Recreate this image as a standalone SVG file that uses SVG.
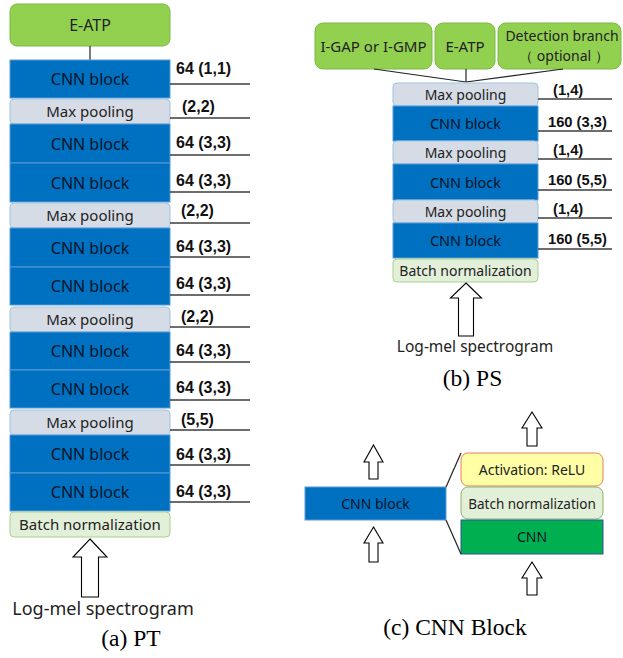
<svg xmlns="http://www.w3.org/2000/svg" width="623" height="658" viewBox="0 0 623 658">
  <style>
    .cnn { fill: #0070C0; stroke: #5B9BD5; stroke-width: 1; }
    .mp { fill: #D6DCE5; stroke: #9DC3E6; stroke-width: 1; }
    .bn { fill: #E2F0D9; stroke: #A9D18E; stroke-width: 1; }
    .head { fill: #92D050; stroke: #7DBA45; stroke-width: 1; }
    .act { fill: #FFFFA6; stroke: #ED7D61; stroke-width: 1; }
    .conv { fill: #00B050; stroke: #2F5597; stroke-width: 1; }
    .t { font-family: "Noto Sans", "Open Sans", sans-serif; text-anchor: middle; fill: #222222; }
    .tc { font-family: "Noto Sans", "Open Sans", sans-serif; text-anchor: middle; fill: #051428; }
    .lab { font-family: "Liberation Sans", Arial, sans-serif; font-weight: bold; fill: #111; }
    .cap { font-family: "Liberation Serif", "Times New Roman", serif; font-size: 23.5px; text-anchor: middle; fill: #000; }
    .rule { stroke: #3C3C3C; stroke-width: 1.4; fill: none; }
    .link { stroke: #222; stroke-width: 1.2; fill: none; }
    .arrow { fill: #FFFFFF; stroke: #000; stroke-width: 1.1; stroke-linejoin: miter; }
  </style>

  <!-- ===== (a) PT ===== -->
  <g id="pt-eatp">
    <rect class="head" x="10" y="4" width="160" height="42" rx="7"/>
    <text class="t" x="90" y="31" font-size="16">E-ATP</text>
  </g>
  <g id="pt-connectors">
    <line class="link" x1="90" y1="46" x2="90" y2="60"/>
  </g>
  <g id="pt-stack">
    <g id="pt-cnn1"><rect class="cnn" x="10" y="60" width="160" height="38"/><text class="tc" x="90" y="85" font-size="16">CNN block</text></g>
    <g id="pt-mp1"><rect class="mp" x="10" y="99" width="160" height="25" rx="4"/><text class="t" x="90" y="117" font-size="15">Max pooling</text></g>
    <g id="pt-cnn2"><rect class="cnn" x="10" y="124" width="160" height="39"/><text class="tc" x="90" y="149.5" font-size="16">CNN block</text></g>
    <g id="pt-cnn3"><rect class="cnn" x="10" y="163" width="160" height="39"/><text class="tc" x="90" y="188.5" font-size="16">CNN block</text></g>
    <g id="pt-mp2"><rect class="mp" x="10" y="203" width="160" height="25" rx="4"/><text class="t" x="90" y="221" font-size="15">Max pooling</text></g>
    <g id="pt-cnn4"><rect class="cnn" x="10" y="228" width="160" height="39"/><text class="tc" x="90" y="253.5" font-size="16">CNN block</text></g>
    <g id="pt-cnn5"><rect class="cnn" x="10" y="267" width="160" height="38"/><text class="tc" x="90" y="292" font-size="16">CNN block</text></g>
    <g id="pt-mp3"><rect class="mp" x="10" y="307" width="160" height="25" rx="4"/><text class="t" x="90" y="325" font-size="15">Max pooling</text></g>
    <g id="pt-cnn6"><rect class="cnn" x="10" y="332" width="160" height="38"/><text class="tc" x="90" y="357" font-size="16">CNN block</text></g>
    <g id="pt-cnn7"><rect class="cnn" x="10" y="370" width="160" height="38"/><text class="tc" x="90" y="395" font-size="16">CNN block</text></g>
    <g id="pt-mp4"><rect class="mp" x="10" y="410" width="160" height="25" rx="4"/><text class="t" x="90" y="428" font-size="15">Max pooling</text></g>
    <g id="pt-cnn8"><rect class="cnn" x="10" y="435" width="160" height="38"/><text class="tc" x="90" y="460" font-size="16">CNN block</text></g>
    <g id="pt-cnn9"><rect class="cnn" x="10" y="473" width="160" height="38"/><text class="tc" x="90" y="498" font-size="16">CNN block</text></g>
    <g id="pt-bn"><rect class="bn" x="10" y="512" width="160" height="25" rx="4"/><text class="t" x="90" y="530" font-size="15">Batch normalization</text></g>
  </g>
  <g id="pt-labels" font-size="16">
    <text class="lab" x="176" y="74">64 (1,1)</text><line class="rule" x1="170" y1="84" x2="250" y2="84"/>
    <text class="lab" x="182" y="112">(2,2)</text><line class="rule" x1="170" y1="118" x2="250" y2="118"/>
    <text class="lab" x="176" y="148">64 (3,3)</text><line class="rule" x1="170" y1="155" x2="250" y2="155"/>
    <text class="lab" x="176" y="186">64 (3,3)</text><line class="rule" x1="170" y1="192" x2="250" y2="192"/>
    <text class="lab" x="181" y="216">(2,2)</text><line class="rule" x1="170" y1="223" x2="250" y2="223"/>
    <text class="lab" x="176" y="252">64 (3,3)</text><line class="rule" x1="170" y1="257" x2="250" y2="257"/>
    <text class="lab" x="176" y="289">64 (3,3)</text><line class="rule" x1="170" y1="295" x2="250" y2="295"/>
    <text class="lab" x="181" y="322">(2,2)</text><line class="rule" x1="170" y1="327" x2="250" y2="327"/>
    <text class="lab" x="176" y="356">64 (3,3)</text><line class="rule" x1="170" y1="362" x2="250" y2="362"/>
    <text class="lab" x="176" y="393">64 (3,3)</text><line class="rule" x1="170" y1="400" x2="250" y2="400"/>
    <text class="lab" x="181" y="425">(5,5)</text><line class="rule" x1="170" y1="430" x2="250" y2="430"/>
    <text class="lab" x="176" y="460">64 (3,3)</text><line class="rule" x1="170" y1="465" x2="250" y2="465"/>
    <text class="lab" x="176" y="497">64 (3,3)</text><line class="rule" x1="170" y1="502" x2="250" y2="502"/>
  </g>
  <g id="pt-input">
    <path class="arrow" d="M90,539 L107,557 L98.5,557 L98.5,597 L81.5,597 L81.5,557 L73,557 Z"/>
    <text class="t" x="103" y="615" font-size="18">Log-mel spectrogram</text>
  </g>
  <text class="cap" x="131" y="646">(a) PT</text>

  <!-- ===== (b) PS ===== -->
  <g id="ps-gap">
    <rect class="head" x="315" y="23" width="117" height="46" rx="8"/>
    <text class="t" x="373.5" y="52" font-size="15">I-GAP or I-GMP</text>
  </g>
  <g id="ps-eatp">
    <rect class="head" x="435" y="23" width="60" height="46" rx="8"/>
    <text class="t" x="465" y="52" font-size="15">E-ATP</text>
  </g>
  <g id="ps-detect">
    <rect class="head" x="498" y="23" width="123" height="46" rx="8"/>
    <text class="t" x="562" y="41" font-size="14">Detection branch</text>
    <text class="t" x="564" y="61" font-size="14" font-family="'Noto Sans', 'Noto Sans CJK SC', sans-serif">（ optional ）</text>
  </g>
  <g id="ps-connectors">
    <line class="link" x1="374" y1="69" x2="466" y2="82"/>
    <line class="link" x1="466" y1="69" x2="466" y2="82"/>
    <line class="link" x1="563" y1="69" x2="466" y2="82"/>
  </g>
  <g id="ps-stack">
    <g id="ps-mp1"><rect class="mp" x="393" y="83" width="145" height="23" rx="4"/><text class="t" x="465.5" y="99.5" font-size="14">Max pooling</text></g>
    <g id="ps-cnn1"><rect class="cnn" x="393" y="106" width="145" height="35"/><text class="tc" x="465.5" y="129" font-size="14.5">CNN block</text></g>
    <g id="ps-mp2"><rect class="mp" x="393" y="141" width="145" height="23" rx="4"/><text class="t" x="465.5" y="157.5" font-size="14">Max pooling</text></g>
    <g id="ps-cnn2"><rect class="cnn" x="393" y="164" width="145" height="36"/><text class="tc" x="465.5" y="187.5" font-size="14.5">CNN block</text></g>
    <g id="ps-mp3"><rect class="mp" x="393" y="200" width="145" height="23" rx="4"/><text class="t" x="465.5" y="216.5" font-size="14">Max pooling</text></g>
    <g id="ps-cnn3"><rect class="cnn" x="393" y="223" width="145" height="35"/><text class="tc" x="465.5" y="246" font-size="14.5">CNN block</text></g>
    <g id="ps-bn"><rect class="bn" x="393" y="259" width="145" height="23" rx="4"/><text class="t" x="465.5" y="275.5" font-size="14">Batch normalization</text></g>
  </g>
  <g id="ps-labels" font-size="14.7">
    <text class="lab" x="553" y="95">(1,4)</text><line class="rule" x1="538" y1="99" x2="612" y2="99"/>
    <text class="lab" x="548" y="127">160 (3,3)</text><line class="rule" x1="538" y1="131" x2="612" y2="131"/>
    <text class="lab" x="553" y="155">(1,4)</text><line class="rule" x1="538" y1="159" x2="612" y2="159"/>
    <text class="lab" x="548" y="185">160 (5,5)</text><line class="rule" x1="538" y1="190" x2="612" y2="190"/>
    <text class="lab" x="553" y="214">(1,4)</text><line class="rule" x1="538" y1="218" x2="612" y2="218"/>
    <text class="lab" x="548" y="244">160 (5,5)</text><line class="rule" x1="538" y1="249" x2="612" y2="249"/>
  </g>
  <g id="ps-input">
    <path class="arrow" d="M466,283 L481.5,298 L473.5,298 L473.5,336 L458.5,336 L458.5,298 L450.5,298 Z"/>
    <text class="t" x="475" y="352" font-size="15.5">Log-mel spectrogram</text>
  </g>
  <text class="cap" x="472.5" y="386">(b) PS</text>

  <!-- ===== (c) CNN Block ===== -->
  <g id="cb-block">
    <rect class="cnn" x="305" y="487" width="141" height="33"/>
    <text class="tc" x="375.5" y="508.5" font-size="14">CNN block</text>
  </g>
  <g id="cb-act">
    <rect class="act" x="461" y="453" width="142" height="33" rx="7"/>
    <text class="t" x="532" y="475" font-size="14">Activation: ReLU</text>
  </g>
  <g id="cb-bn">
    <rect class="bn" x="461" y="487" width="142" height="32" rx="7" style="stroke:#8DB36B"/>
    <text class="t" x="532" y="508.5" font-size="13.5">Batch normalization</text>
  </g>
  <g id="cb-cnn">
    <rect class="conv" x="461" y="520" width="142" height="34"/>
    <text class="tc" x="532" y="542" font-size="14">CNN</text>
  </g>
  <g id="cb-connectors">
    <line class="link" x1="446" y1="487" x2="461" y2="453"/>
    <line class="link" x1="446" y1="520" x2="461" y2="554"/>
    <path class="arrow" d="M373.5,445 L383,462 L378,462 L378,479 L369,479 L369,462 L364,462 Z"/>
    <path class="arrow" d="M373.5,527 L383,543 L378,543 L378,562 L369,562 L369,543 L364,543 Z"/>
    <path class="arrow" d="M532,412 L542,428 L537,428 L537,446 L527,446 L527,428 L522,428 Z"/>
    <path class="arrow" d="M532,562 L542,578 L537,578 L537,595 L527,595 L527,578 L522,578 Z"/>
  </g>
  <text class="cap" x="455" y="635">(c) CNN Block</text>
</svg>
